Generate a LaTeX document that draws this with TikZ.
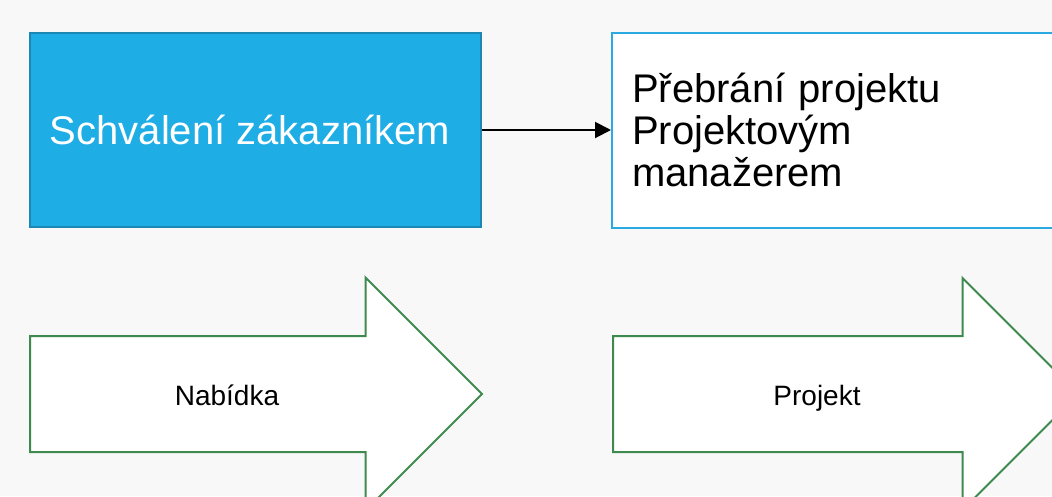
\documentclass[tikz,border=0pt]{standalone}
\usepackage{fontspec}
\setmainfont{Liberation Sans}
\usetikzlibrary{arrows.meta}
\definecolor{bg}{RGB}{248,248,248}
\definecolor{boxblue}{RGB}{30,173,228}
\definecolor{boxblueline}{RGB}{28,135,180}
\definecolor{lightblueline}{RGB}{41,171,226}
\definecolor{arrowgreen}{RGB}{62,138,78}
\tikzset{
  bluebox/.style={draw=boxblueline, fill=boxblue, line width=1.5pt, text=white,
    font=\fontsize{40}{46}\selectfont, inner sep=0pt},
  whitebox/.style={draw=lightblueline, fill=white, line width=2pt, text=black,
    font=\fontsize{40}{42}\selectfont, align=left, inner xsep=20pt, inner ysep=0pt},
  blockarrow/.style={draw=arrowgreen, fill=white, line width=2pt, line join=miter},
  arrowtext/.style={text=black, font=\fontsize{28}{32}\selectfont, inner sep=0pt},
  connector/.style={draw=black, line width=2pt, -{Triangle[length=16pt,width=16pt]}}
}
\begin{document}
\begin{tikzpicture}[x=1pt,y=-1pt]
\useasboundingbox (0,0) rectangle (1052,496);
\fill[bg] (0,0) rectangle (1052,496);
\clip (0,0) rectangle (1052,496);

\node[bluebox, minimum width=451pt, minimum height=194pt] (b) at (255.5,130) {\kern-11pt Schválení zákazníkem};
\node[whitebox, anchor=west, minimum width=490pt, minimum height=195pt, text width=450pt] (r) at (611,130)
  {Přebrání projektu\\Projektovým\\manažerem};

\draw[connector] (b.east) -- (r.west);

\draw[blockarrow] (30,336) -- (365.5,336) -- (365.5,277.5) -- (482,394) -- (365.5,510.5) -- (365.5,452) -- (30,452) -- cycle;
\draw[blockarrow] (613,336) -- (962.5,336) -- (962.5,278) -- (1078.5,394) -- (962.5,510) -- (962.5,452) -- (613,452) -- cycle;

\node[arrowtext, anchor=base] (n1) at (227,405.5) {Nabídka};
\node[arrowtext, anchor=base] (n2) at (817,405.5) {Projekt};
\end{tikzpicture}
\end{document}
